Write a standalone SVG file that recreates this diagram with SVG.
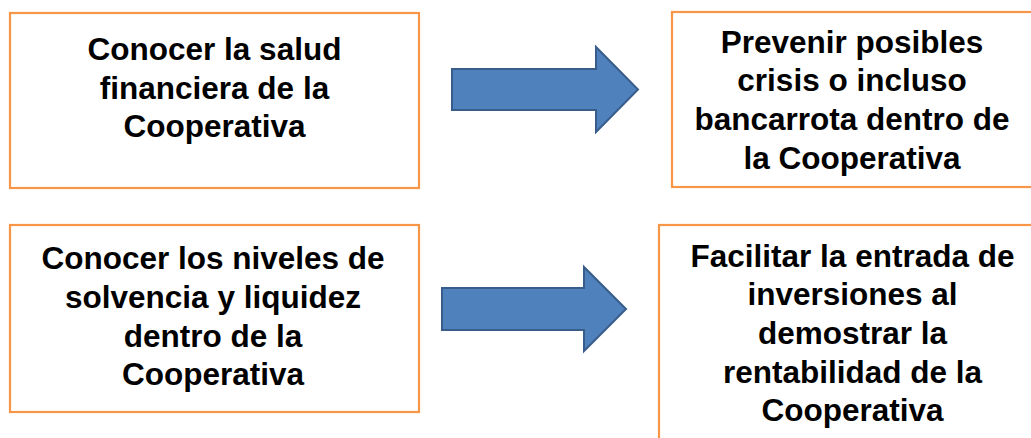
<svg xmlns="http://www.w3.org/2000/svg" width="1031" height="438" viewBox="0 0 1031 438">
<style>
.box{fill:#ffffff;stroke:#F79646;stroke-width:2.2}
.arrow{fill:#4F81BD;stroke:#385D8A;stroke-width:2}
.t{font-family:"Liberation Sans",Arial,sans-serif;font-weight:bold;font-size:31.5px;fill:#000000;text-anchor:middle}
</style>
<rect width="1031" height="438" fill="#ffffff"/>
<g id="node-salud">
<rect class="box" x="10" y="13" width="409" height="175"/>
<text class="t"><tspan x="214.5" y="60">Conocer la salud</tspan><tspan x="214.5" y="98.7">financiera de la</tspan><tspan x="214.5" y="137.4">Cooperativa</tspan></text>
</g>
<g id="node-prevenir">
<rect class="box" x="672" y="12" width="370" height="175"/>
<text class="t"><tspan x="852" y="52.5">Prevenir posibles</tspan><tspan x="852" y="91.2">crisis o incluso</tspan><tspan x="852" y="129.9">bancarrota dentro de</tspan><tspan x="852" y="168.6">la Cooperativa</tspan></text>
</g>
<g id="node-solvencia">
<rect class="box" x="10" y="225" width="409" height="187"/>
<text class="t"><tspan x="213" y="269.3">Conocer los niveles de</tspan><tspan x="213" y="308">solvencia y liquidez</tspan><tspan x="213" y="346.7">dentro de la</tspan><tspan x="213" y="385.4">Cooperativa</tspan></text>
</g>
<g id="node-facilitar">
<rect class="box" x="659" y="225" width="387" height="230"/>
<text class="t"><tspan x="852.5" y="266.5">Facilitar la entrada de</tspan><tspan x="852.5" y="305.2">inversiones al</tspan><tspan x="852.5" y="343.9">demostrar la</tspan><tspan x="852.5" y="382.6">rentabilidad de la</tspan><tspan x="852.5" y="421.3">Cooperativa</tspan></text>
</g>
<g id="connectors">
<polygon class="arrow" points="452,69 596,69 596,47 638,89.5 596,132 596,110 452,110"/>
<polygon class="arrow" points="442,288 584,288 584,267 626,309 584,351 584,330 442,330"/>
</g>
</svg>
